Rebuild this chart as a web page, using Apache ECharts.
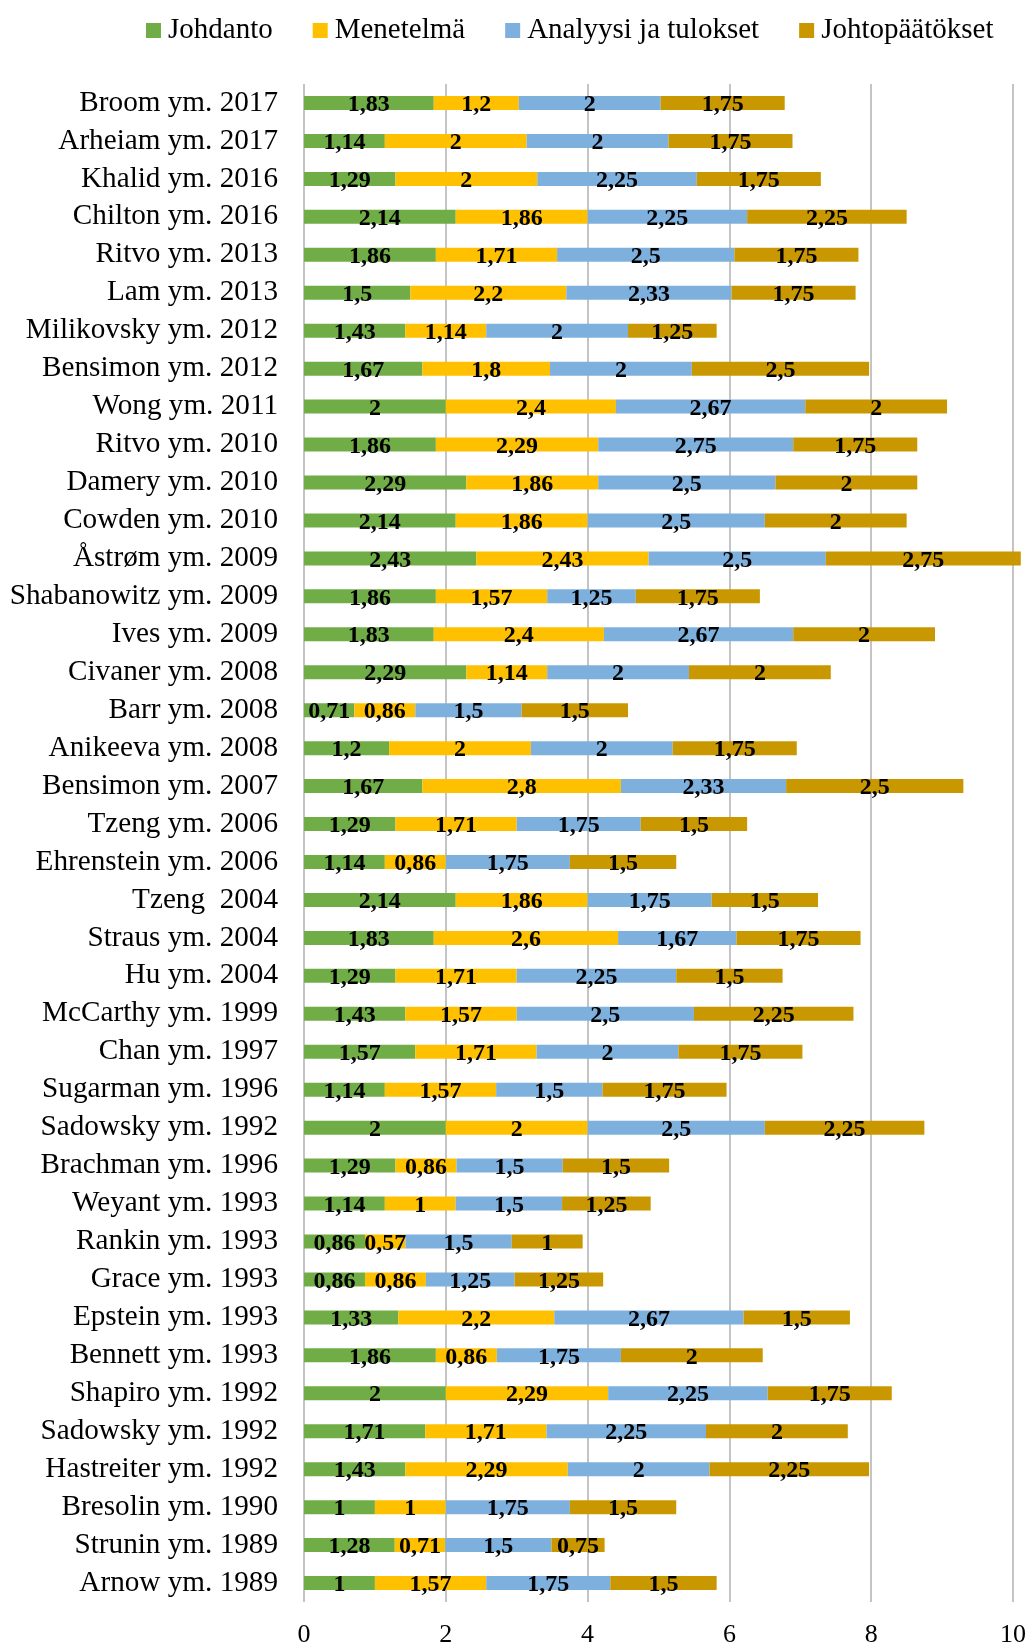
<!DOCTYPE html>
<html>
<head>
<meta charset="utf-8">
<title>Artikkelien laatupisteet osioittain</title>
<script src="https://cdn.jsdelivr.net/npm/echarts@6/dist/echarts.min.js"></script>
<style>
  html, body { margin: 0; padding: 0; background: #ffffff; }
  #chart { width: 1030px; height: 1648px; }
</style>
</head>
<body>
<div id="chart"></div>
<script>
// Tutkimukset ylhäältä alas
const studies = [
  'Broom ym. 2017', 'Arheiam ym. 2017', 'Khalid ym. 2016', 'Chilton ym. 2016',
  'Ritvo ym. 2013', 'Lam ym. 2013', 'Milikovsky ym. 2012', 'Bensimon ym. 2012',
  'Wong ym. 2011', 'Ritvo ym. 2010', 'Damery ym. 2010', 'Cowden ym. 2010',
  'Åstrøm ym. 2009', 'Shabanowitz ym. 2009', 'Ives ym. 2009', 'Civaner ym. 2008',
  'Barr ym. 2008', 'Anikeeva ym. 2008', 'Bensimon ym. 2007', 'Tzeng ym. 2006',
  'Ehrenstein ym. 2006', 'Tzeng  2004', 'Straus ym. 2004', 'Hu ym. 2004',
  'McCarthy ym. 1999', 'Chan ym. 1997', 'Sugarman ym. 1996', 'Sadowsky ym. 1992',
  'Brachman ym. 1996', 'Weyant ym. 1993', 'Rankin ym. 1993', 'Grace ym. 1993',
  'Epstein ym. 1993', 'Bennett ym. 1993', 'Shapiro ym. 1992', 'Sadowsky ym. 1992',
  'Hastreiter ym. 1992', 'Bresolin ym. 1990', 'Strunin ym. 1989', 'Arnow ym. 1989'
];

const johdanto = [
  1.83, 1.14, 1.29, 2.14, 1.86, 1.5, 1.43, 1.67, 2, 1.86, 2.29, 2.14,
  2.43, 1.86, 1.83, 2.29, 0.71, 1.2, 1.67, 1.29, 1.14, 2.14, 1.83, 1.29,
  1.43, 1.57, 1.14, 2, 1.29, 1.14, 0.86, 0.86, 1.33, 1.86, 2, 1.71,
  1.43, 1, 1.28, 1
];

const menetelma = [
  1.2, 2, 2, 1.86, 1.71, 2.2, 1.14, 1.8, 2.4, 2.29, 1.86, 1.86,
  2.43, 1.57, 2.4, 1.14, 0.86, 2, 2.8, 1.71, 0.86, 1.86, 2.6, 1.71,
  1.57, 1.71, 1.57, 2, 0.86, 1, 0.57, 0.86, 2.2, 0.86, 2.29, 1.71,
  2.29, 1, 0.71, 1.57
];

const analyysi = [
  2, 2, 2.25, 2.25, 2.5, 2.33, 2, 2, 2.67, 2.75, 2.5, 2.5,
  2.5, 1.25, 2.67, 2, 1.5, 2, 2.33, 1.75, 1.75, 1.75, 1.67, 2.25,
  2.5, 2, 1.5, 2.5, 1.5, 1.5, 1.5, 1.25, 2.67, 1.75, 2.25, 2.25,
  2, 1.75, 1.5, 1.75
];

const johtopaatokset = [
  1.75, 1.75, 1.75, 2.25, 1.75, 1.75, 1.25, 2.5, 2, 1.75, 2, 2,
  2.75, 1.75, 2, 2, 1.5, 1.75, 2.5, 1.5, 1.5, 1.5, 1.75, 1.5,
  2.25, 1.75, 1.75, 2.25, 1.5, 1.25, 1, 1.25, 1.5, 2, 1.75, 2,
  2.25, 1.5, 0.75, 1.5
];

const xTicks = { min: 0, max: 10, interval: 2 };

const FONT = '"Liberation Serif", "Times New Roman", serif';

function fiNumber(v) {
  return String(v).replace('.', ',');
}

function stackSeries(name, values, color) {
  return {
    name: name,
    type: 'bar',
    stack: 'pisteet',
    data: values,
    barWidth: 14,
    clip: false,
    itemStyle: { color: color },
    label: {
      show: true,
      position: 'inside',
      offset: [0, 2],
      formatter: p => fiNumber(p.value),
      color: '#000000',
      fontFamily: FONT,
      fontWeight: 'bold',
      fontSize: 24
    },
    emphasis: { disabled: true }
  };
}

const chart = echarts.init(document.getElementById('chart'), null, { renderer: 'canvas' });

chart.setOption({
  animation: false,
  backgroundColor: '#ffffff',
  textStyle: { fontFamily: FONT },
  legend: {
    left: 141,
    top: 11,
    itemWidth: 15,
    itemHeight: 15,
    itemGap: 40,
    icon: 'rect',
    textStyle: {
      fontFamily: FONT,
      fontSize: 29,
      color: '#000000',
      padding: [0, 0, 0, 2]
    },
    data: ['Johdanto', 'Menetelmä', 'Analyysi ja tulokset', 'Johtopäätökset']
  },
  grid: {
    left: 304,
    right: 17,
    top: 84,
    bottom: 45,
    containLabel: false
  },
  xAxis: {
    type: 'value',
    min: xTicks.min,
    max: xTicks.max,
    interval: xTicks.interval,
    axisLine: { show: false },
    axisTick: { show: false },
    splitLine: { show: true, lineStyle: { color: '#C4C4C4', width: 2 } },
    axisLabel: {
      margin: 20,
      fontFamily: FONT,
      fontSize: 26,
      color: '#000000'
    }
  },
  yAxis: {
    type: 'category',
    inverse: true,
    data: studies,
    axisLine: { show: false },
    axisTick: { show: false },
    axisLabel: {
      margin: 26,
      fontFamily: FONT,
      fontSize: 29.2,
      color: '#000000'
    }
  },
  series: [
    stackSeries('Johdanto', johdanto, '#70AD47'),
    stackSeries('Menetelmä', menetelma, '#FFC000'),
    stackSeries('Analyysi ja tulokset', analyysi, '#7EB0DE'),
    stackSeries('Johtopäätökset', johtopaatokset, '#C99800')
  ]
});
</script>
</body>
</html>
